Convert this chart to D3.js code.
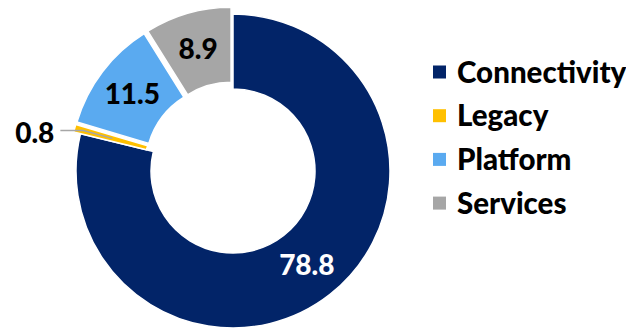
<!DOCTYPE html>
<html>
<head>
<meta charset="utf-8">
<script src="https://cdn.jsdelivr.net/npm/d3@7"></script>
<style>
  html, body { margin: 0; padding: 0; background: #ffffff; }
  svg { display: block; }
  text { font-family: Lato, "Open Sans", "DejaVu Sans", sans-serif; font-weight: 900; }
</style>
</head>
<body>
<svg id="chart" width="626" height="328"></svg>
<script>
// ---- data ----
const categories = ["Connectivity", "Legacy", "Platform", "Services"];
const values = [78.8, 0.8, 11.5, 8.9];
const labels = ["78.8", "0.8", "11.5", "8.9"];
const colors = ["#022468", "#FFC000", "#5AAAF0", "#A6A6A6"];
const labelColors = ["#ffffff", "#000000", "#000000", "#000000"];
const explode = [0, 7, 7, 7];

// ---- layout ----
const W = 626, H = 328;
const cx = 233, cy = 171;
const outerR = 157, innerR = 82;

const svg = d3.select("#chart");
svg.append("rect").attr("width", W).attr("height", H).attr("fill", "#ffffff");

const data = categories.map((c, i) => ({ name: c, value: values[i], label: labels[i], color: colors[i], lc: labelColors[i], ex: explode[i] }));

const pie = d3.pie().value(d => d.value).sort(null).startAngle(0).endAngle(2 * Math.PI);
const arc = d3.arc().innerRadius(innerR).outerRadius(outerR);
const arcs = pie(data);

const g = svg.append("g").attr("transform", `translate(${cx},${cy})`);

function offset(a, r) {
  const m = (a.startAngle + a.endAngle) / 2;
  return [Math.sin(m) * r, -Math.cos(m) * r];
}

const slices = g.selectAll("g.slice").data(arcs).join("g")
  .attr("class", "slice")
  .attr("transform", d => { const o = offset(d, d.data.ex); return `translate(${o[0]},${o[1]})`; });

slices.append("path")
  .attr("d", arc)
  .attr("fill", d => d.data.color)
  .attr("stroke", "#ffffff")
  .attr("stroke-width", 1.5)
  .attr("stroke-linejoin", "miter");

// inside labels (all but Legacy)
slices.filter(d => d.data.name !== "Legacy").append("text")
  .attr("x", d => arc.centroid(d)[0])
  .attr("y", d => arc.centroid(d)[1] + 10)
  .attr("text-anchor", "middle")
  .attr("font-size", 28)
  .attr("fill", d => d.data.lc)
  .text(d => d.data.label);

// Legacy label with leader line
const leg = arcs[1];
const p1 = offset(leg, 118 + leg.data.ex);
const p2 = offset(leg, 148 + leg.data.ex);
const p3 = [p2[0] - 23, p2[1]];
g.append("polyline")
  .attr("points", [p1, p2, p3].map(p => p.join(",")).join(" "))
  .attr("fill", "none")
  .attr("stroke", "#A6A6A6")
  .attr("stroke-width", 1.5);
g.append("text")
  .attr("x", p3[0] - 6)
  .attr("y", p3[1] + 12)
  .attr("text-anchor", "end")
  .attr("font-size", 28)
  .attr("fill", "#000000")
  .text(leg.data.label);

// ---- legend ----
const legend = svg.append("g").attr("transform", "translate(433,72)");
const rowH = 43.7;
const items = legend.selectAll("g").data(data).join("g")
  .attr("transform", (d, i) => `translate(0,${i * rowH})`);
items.append("rect")
  .attr("x", 0).attr("y", -6.5)
  .attr("width", 13).attr("height", 13)
  .attr("fill", d => d.color);
items.append("text")
  .attr("x", 24).attr("y", 10.5)
  .attr("font-size", 29.5)
  .attr("fill", "#000000")
  .text(d => d.name);
</script>
</body>
</html>
